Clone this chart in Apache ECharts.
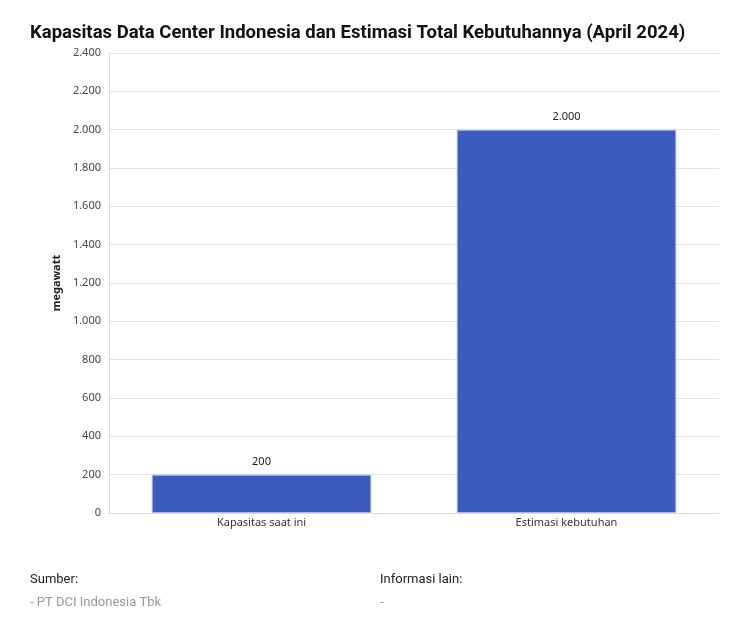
<!DOCTYPE html>
<html>
<head>
<meta charset="utf-8">
<script src="https://cdn.jsdelivr.net/npm/echarts@6/dist/echarts.min.js"></script>
<style>
html,body{margin:0;padding:0;background:#fff;}
#c{width:729px;height:619px;}
</style>
</head>
<body>
<div id="c"></div>
<script>
const categories = ["Kapasitas saat ini", "Estimasi kebutuhan"];
const values = [200, 2000];
const yTicks = { min: 0, max: 2400, interval: 200 };

function fmt(v){ return String(v).replace(/\B(?=(\d{3})+(?!\d))/g, "."); }

const chart = echarts.init(document.getElementById('c'), null, {renderer:'canvas'});
chart.setOption({
  animation:false,
  backgroundColor:'#fff',
  title:[
    {text:'Kapasitas Data Center Indonesia dan Estimasi Total Kebutuhannya (April 2024)', left:25, top:19,
     textStyle:{fontFamily:'Roboto', fontWeight:'bold', fontSize:18.5, color:'#111'}},
    {text:'Sumber:', left:25, top:568, textStyle:{fontFamily:'Roboto', fontWeight:'normal', fontSize:13, color:'#222'}},
    {text:'- PT DCI Indonesia Tbk', left:25, top:591, textStyle:{fontFamily:'Roboto', fontWeight:'normal', fontSize:13, color:'#999'}},
    {text:'Informasi lain:', left:375, top:568, textStyle:{fontFamily:'Roboto', fontWeight:'normal', fontSize:13, color:'#222'}},
    {text:'-', left:375, top:591, textStyle:{fontFamily:'Roboto', fontWeight:'normal', fontSize:13, color:'#999'}}
  ],
  grid:{left:109, right:10, top:53, bottom:106, containLabel:false},
  xAxis:{type:'category', data:categories,
    axisLine:{show:true, lineStyle:{color:'#ddd'}}, axisTick:{show:false},
    axisLabel:{fontFamily:'Noto Sans', fontSize:11, color:'#333', margin:4}},
  yAxis:{type:'value', min:yTicks.min, max:yTicks.max, interval:yTicks.interval,
    name:'megawatt', nameLocation:'middle', nameGap:42, nameRotate:90,
    nameTextStyle:{fontFamily:'Noto Sans', fontWeight:'bold', fontSize:11, color:'#222'},
    axisLine:{show:true, lineStyle:{color:'#ddd'}}, axisTick:{show:false},
    splitLine:{lineStyle:{color:'#e3e3e3'}},
    axisLabel:{fontFamily:'Noto Sans', fontSize:11, color:'#444', margin:8, formatter:fmt}},
  series:[{type:'bar', data:values, barWidth:'72%',
    itemStyle:{color:'#3b5bbf', borderColor:'#a9b8e6', borderWidth:1},
    label:{show:true, position:'top', distance:7, formatter:p=>fmt(p.value),
      fontFamily:'Noto Sans', fontSize:11, color:'#222'}}]
});
</script>
</body>
</html>
